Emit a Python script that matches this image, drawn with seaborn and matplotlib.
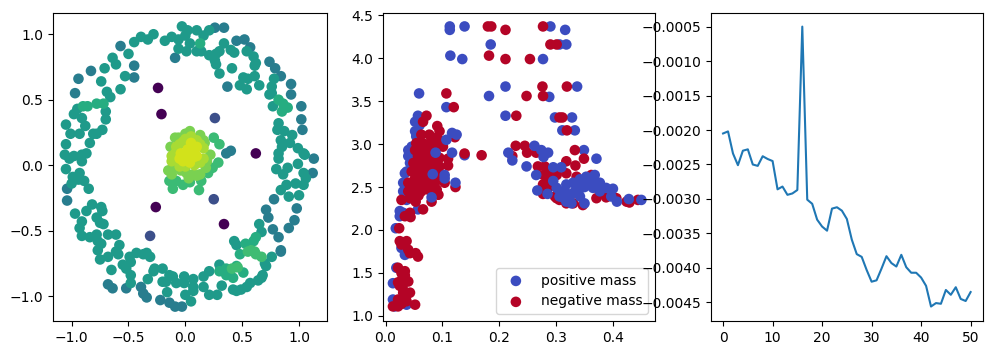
import numpy as np
import pandas as pd
import seaborn as sns
import matplotlib.pyplot as plt

# left panel: points, grouped by colour level
ring_blue = [(-.94,.66),(-.83,.72),(.37,.60),(-.45,.67),(-.45,.76),(-.57,.91),(-.97,.55),(-1.04,-.27),(-.68,-.91),(-.64,-.94),
             (-.52,-.94),(-.22,-1.03),(-.34,-1.01),(-.37,-.98),(-.39,-.93),(-.09,-1.08),(-.03,-1.08),(-.14,-1.05),(1.02,.45),(1.02,.35),
             (1.03,.27),(.93,.62),(.93,.54),(1.13,.05),(1.12,-.06),(.98,-.33),(.96,-.42),(.91,-.48),(.84,-.65),(.84,-.66),
             (.71,-.34),(.73,-.40),(.78,-.26),(.82,-.55),(.77,-.49),(.52,.96),(.45,.95),(.57,.90),(.34,1.05),(.26,1.05),
             (.74,.79),(.79,.74),(.84,.68),(-.09,.82),(-1.04,-.18)]
ring_teal = [(-.03,1.06),(.02,1.03),(0,.99),(.10,1.03),(.16,.99),(.21,1.03),(.04,.93),(-.06,.89),(.01,.87),(.10,.87),(.14,.87),
             (.21,.84),(.27,.85),(.30,.87),(.34,.93),(.40,.88),(.43,.86),(.54,.87),(.60,.83),(.62,.78),(.61,.76),(.26,.80),(.27,.77),
             (.30,.70),(.41,.74),(.51,.67),(.55,.66),(.61,.68),(.48,.61),(.54,.58),(.65,.61),
             (.78,.66),(.76,.60),(.76,.55),(.74,.54),(.77,.45),(.82,.32),(.81,.27),(.87,.26),(.94,.23),(.84,.19),(.92,.17),(.85,.14),
             (.99,.13),(1.04,.09),(1.05,.08),(.82,.09),(.82,.05),(.80,-.03),(.86,-.07),(.90,-.02),(.99,.01),(1.04,-.06),(1.06,-.10),
             (1.04,-.15),(.97,-.14),(.89,-.15),(.84,-.19),(1.0,-.23),(.91,-.24),(.65,-.45),(.67,-.51),(.76,-.70),
             (.43,-.58),(.45,-.61),(.70,-.75),(.71,-.77),(.68,-.84),(.67,-.86),(.64,-.88),(.32,-.92),(.42,-.95),(.45,-.96),(.49,-.95),
             (.54,-.93),(.57,-.90),(.30,-.76),(.21,-.81),(.16,-.85),
             (-.01,-.85),(.07,-.87),(-.01,-.90),(-.11,-.85),(-.14,-.84),(-.20,-.79),(-.27,-.79),(-.28,-.81),(-.20,-.89),(-.17,-.89),
             (-.08,-.90),(-.33,-.87),(-.16,-.97),(.05,-1.04),(0,-.99),(.07,-.96),(.07,-.93),(.16,-.93),(.21,-.99),(.28,-.99),
             (-.34,-.67),(-.31,-.70),(-.37,-.68),(-.43,-.67),(-.49,-.70),(-.48,-.74),(-.55,-.76),(-.52,-.79),(-.48,-.84),(-.48,-.90),
             (-.59,-.68),(-.61,-.66),(-.58,-.61),(-.68,-.53),(-.61,-.53),(-.75,-.72),(-.68,-.70),(-.65,-.80),
             (-.78,-.53),(-.77,-.58),(-.74,-.60),(-.77,-.65),(-.84,-.55),(-.91,-.54),(-.93,-.48),(-.91,-.43),(-.87,-.35),(-.82,-.30),
             (-.74,-.32),(-.73,-.35),(-.78,-.40),(-.75,-.44),(-.72,-.45),(-.97,-.37),
             (-.99,-.09),(-.93,-.06),(-.94,-.11),(-1.0,-.14),(-.89,-.12),(-.85,-.18),(-1.05,-.03),(-1.06,.08),(-1.02,.05),(-.98,.07),
             (-.91,.08),(-.87,.09),(-.91,.03),(-1.05,.16),(-1.01,.24),(-.93,.24),(-.84,.17),(-.81,.24),(-.78,.24),(-.73,.27),(-1.05,.31),
             (-.88,.30),(-.91,.36),(-.98,.39),(-.95,.43),(-.70,.41),(-.70,.35),
             (-.74,.64),(-.71,.74),(-.64,.82),(-.61,.77),(-.50,.85),(-.53,.68),(-.57,.58),(-.69,.56),(-.66,.52),(-.45,.94),(-.39,.98),
             (-.33,.96),(-.28,1.0),(-.18,.95),(-.12,.98),(-.06,.96)]
ring_green = [(.13,.93),(.82,.50),(.86,.47),(.90,.44),(.85,.41),(-.90,.45),(-.86,.45),(-.78,.47),(-.72,.47),
              (.53,-.60),(.60,-.58),(.62,-.55),(.48,-.68),(.45,-.77),(.36,-.79),(.39,-.81),(.51,-.82),(.30,-.81),(.36,-.84),(.42,-.86)]
ring_bright = [(.58,-.65),(.61,-.66),(.55,-.66),(.62,-.68),(.67,-.70),(.46,-.78),(.41,-.79)]
inner_dark = [(-.24,.59),(-.21,.39),(.62,.09),(-.26,-.32),(.34,-.45)]
inner_blue = [(.26,.36),(.25,-.26),(-.31,-.54)]
inner_teal = [(.40,.11),(.36,.09)]
core_edge = [(.25,.21),(.30,.16),(.29,.02),(.24,-.02),(.12,-.19),(.14,-.12),(.20,-.06),(-.11,-.18),(-.14,-.12),(-.08,-.12),(-.02,-.15),(.04,-.13)]
core_mid = [(.04,.26),(0,.24),(-.06,.21),(-.09,.21),(.13,.23),(.16,.19),(.17,.17),(.22,.08),(-.15,-.04),(-.12,-.07),(.07,-.07),(.13,-.07),(-.04,-.04),(.01,-.06),
            (-.11,-.02),(.19,.03),(.18,-.02),(-.13,.14),(.10,-.08),(.03,-.10)]
core_high = [(.05,.22),(-.08,.14),(-.02,.18),(-.09,.09),(-.12,.07),(.16,.13),(.16,.05),(-.12,.03),(-.05,-.01),(.13,.02),
             (.10,.19),(-.05,.16),(.00,.20),(.13,.16),(-.09,.04),(.08,.00),(.00,-.01)]
core_top = [(.05,.17),(.10,.14),(-.04,.09),(.02,.12),(.08,.10),(-.05,.05),(.01,.07),(.10,.07),(.04,.02),(.06,.13),(.03,.05),(.07,.06),(-.02,.03)]

groups = [(ring_blue, .42), (ring_teal, .54), (ring_green, .62), (ring_bright, .69),
          (inner_dark, .0), (inner_blue, .24), (inner_teal, .42),
          (core_edge, .68), (core_mid, .80), (core_high, .87), (core_top, .93)]
rows = [(x, y, c) for pts, c in groups for x, y in pts]
df_left = pd.DataFrame(rows, columns=["x", "y", "c"])

# middle panel
pos_upper = [(.113,4.37),(.113,4.33),(.139,4.37),(.290,4.37),(.316,4.33),(.185,4.16),(.306,4.16),(.318,4.16),(.114,4.03),(.135,3.99),
             (.277,3.99),(.059,3.59),(.182,3.56),(.211,3.67),(.288,3.55),(.337,3.67),(.107,3.43),(.211,3.33),(.298,3.31),(.328,3.31),
             (.311,3.16),(.333,3.16),(.349,2.93)]
pos_left = [(.057,3.33),(.052,3.26),(.060,3.22),(.052,3.15),(.054,3.09),(.046,2.97),(.040,2.86),(.037,2.68),(.031,2.55),(.031,2.45),
            (.037,2.35),(.057,2.24),(.025,2.22),(.031,2.20),(.025,2.16),(.018,2.02),(.028,1.79),(.034,1.71),(.019,1.56),(.013,1.38),
            (.013,1.19),(.016,1.11),(.037,1.13),(.101,3.03),(.139,2.87),(.040,2.93),(.043,2.78),(.034,2.66)]
pos_late = [(.088,2.90),(.083,2.65),(.081,2.38),(.123,2.55),(.104,2.64),(.104,2.60),(.117,3.13),(.125,3.11),(.107,3.05),(.117,2.90),
            (.262,2.98),(.274,2.93),(.286,2.90),(.278,2.85),(.216,2.90),(.223,2.81),(.248,2.74),(.265,2.64),(.267,2.46),(.285,2.42),
            (.295,2.73),(.309,2.73),(.371,2.83),(.295,2.57),(.301,2.49),(.306,2.39),(.318,2.53),(.330,2.55),(.342,2.59),(.353,2.62),
            (.368,2.64),(.356,2.55),(.344,2.49),(.365,2.49),(.377,2.55),(.388,2.49),(.400,2.48),(.377,2.45),(.342,2.39),(.350,2.31),
            (.324,2.39),(.318,2.33),(.327,2.31),(.397,2.39),(.407,2.33),(.428,2.36),(.450,2.35),
            (.335,2.47),(.350,2.50),(.362,2.56),(.372,2.50),(.330,2.43),(.315,2.46),(.312,2.38)]
neg_upper = [(.180,4.37),(.186,4.37),(.211,4.33),(.277,4.37),(.182,4.03),(.211,3.99),(.254,3.99),(.290,4.16),(.301,4.16),(.276,3.67),
             (.319,3.67),(.248,3.56),(.277,3.56),(.107,3.59),(.120,3.43),(.230,3.33),(.306,3.31),(.311,3.31),(.319,3.16),(.333,2.93),
             (.349,2.83),(.334,2.75),(.318,2.80),(.139,2.89),(.169,2.87)]
neg_left = [(.072,3.33),(.066,3.26),(.091,3.21),(.095,3.15),(.063,3.11),(.077,3.11),(.084,3.07),(.093,3.05),(.122,3.08),(.054,3.01),
            (.066,3.01),(.078,3.01),(.090,2.97),(.101,2.97),(.052,2.93),(.063,2.93),(.075,2.93),(.087,2.90),(.057,2.86),(.069,2.86),
            (.081,2.82),(.049,2.78),(.060,2.78),(.072,2.76),(.084,2.76),(.110,2.83),(.110,2.75),(.095,2.74),(.046,2.68),(.057,2.68),
            (.069,2.68),(.081,2.70),(.093,2.68),(.052,2.60),(.063,2.60),(.075,2.60),(.087,2.60),(.040,2.55),(.052,2.53),(.063,2.53),
            (.075,2.53),(.087,2.55),(.104,2.55),(.123,2.50),(.040,2.45),(.052,2.45),(.063,2.45),(.075,2.47),(.090,2.47),(.028,2.35),
            (.043,2.37),(.053,2.33),(.081,2.33),(.093,2.41),(.066,2.24),(.034,2.16),(.043,2.20),(.044,2.15),(.024,2.02),(.025,1.87),
            (.037,1.87),(.028,1.83),(.040,1.77),(.043,1.73),(.053,1.73),(.057,1.69),(.022,1.56),(.034,1.52),(.028,1.50),(.022,1.39),
            (.040,1.40),(.025,1.35),(.031,1.27),(.043,1.27),(.022,1.19),(.037,1.17),(.013,1.11),(.022,1.11),(.052,1.13),
            (.060,2.90),(.072,2.84),(.058,2.72),(.066,2.64),(.078,2.66),(.058,2.57),(.070,2.50),(.058,2.40),(.082,2.50),(.095,2.84),
            (.030,1.44),(.030,1.33),(.036,1.22),(.028,1.14),(.034,1.47)]
neg_right = [(.229,2.98),(.245,2.98),(.223,2.86),(.249,2.90),(.265,2.90),(.268,2.74),(.280,2.74),(.292,2.68),(.301,2.64),(.278,2.64),
             (.286,2.62),(.318,2.66),(.277,2.53),(.289,2.51),(.277,2.42),(.298,2.39),(.306,2.35),(.318,2.31),(.330,2.31),(.347,2.29),
             (.336,2.62),(.362,2.64),(.371,2.37),(.388,2.38),(.406,2.37),(.424,2.33),(.444,2.35),(.429,2.32),(.301,2.37)]

# right panel
loss_values = [-.00205,-.00202,-.00234,-.00251,-.00230,-.00228,-.00250,-.00252,-.00238,-.00242,
               -.00245,-.00286,-.00282,-.00294,-.00292,-.00287,-.00050,-.00301,-.00307,-.00330,
               -.00340,-.00346,-.00314,-.00312,-.00317,-.00329,-.00359,-.00380,-.00384,-.00403,
               -.00420,-.00418,-.00401,-.00383,-.00393,-.00398,-.00381,-.00399,-.00407,-.00407,
               -.00414,-.00426,-.00456,-.00451,-.00452,-.00432,-.00439,-.00428,-.00445,-.00448,-.00435]

BLUE = "#3b4cc0"
RED = "#b40426"
point_kws = dict(s=58, edgecolor="none", linewidth=0)

fig, axes = plt.subplots(1, 3, figsize=(9.93, 3.55), dpi=100)

ax = axes[0]
sns.scatterplot(data=df_left, x="x", y="y", hue="c", palette="viridis", hue_norm=(0, 1), legend=False, ax=ax, **point_kws)
ax.set(xlabel="", ylabel="", xlim=(-1.164, 1.246), ylim=(-1.19, 1.16))
ax.set_xticks([-1, -.5, 0, .5, 1])
ax.set_yticks([-1, -.5, 0, .5, 1])

ax = axes[1]
pos_first = np.array(pos_upper + pos_left)
neg_all = np.array(neg_upper + neg_left + neg_right)
late = np.array(pos_late)
sns.scatterplot(x=pos_first[:, 0], y=pos_first[:, 1], color=BLUE, label="positive mass", ax=ax, **point_kws)
sns.scatterplot(x=neg_all[:, 0], y=neg_all[:, 1], color=RED, label="negative mass", ax=ax, **point_kws)
sns.scatterplot(x=late[:, 0], y=late[:, 1], color=BLUE, ax=ax, **point_kws)
ax.set(xlim=(-0.005, 0.474), ylim=(0.94, 4.523))
ax.set_xticks([0, .1, .2, .3, .4])
ax.legend(loc="lower right")

ax = axes[2]
sns.lineplot(x=range(len(loss_values)), y=loss_values, ax=ax)
ax.set_ylim(-0.00477, -0.000307)

# panel positions
for ax, (x0, x1) in zip(axes, [(53, 327), (382.7, 655), (710.7, 983)]):
    ax.set_position([x0 / 993, 1 - 321 / 355, (x1 - x0) / 993, (321 - 13.3) / 355])

fig.savefig("out.png", dpi=100)
